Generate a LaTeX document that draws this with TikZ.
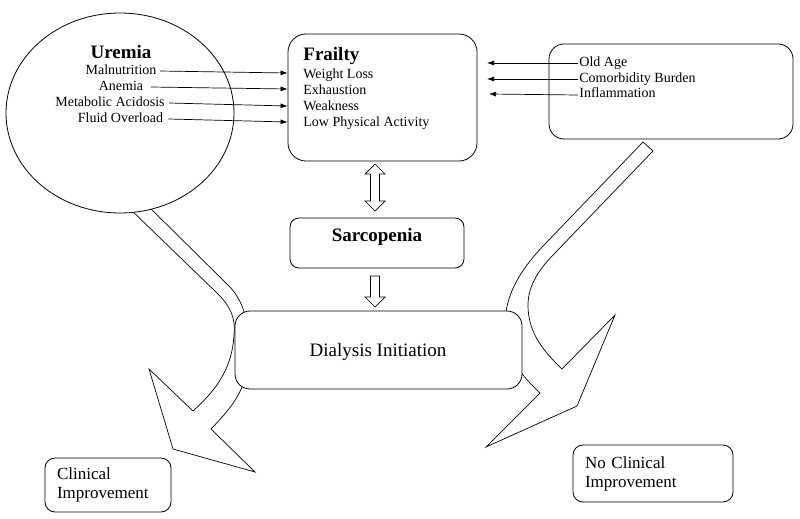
\documentclass[tikz,border=0pt]{standalone}
\usepackage{fontspec}
\setmainfont{Liberation Serif}
\usetikzlibrary{arrows.meta,shapes.geometric}
\begin{document}
\begin{tikzpicture}[x=1pt,y=-1pt,
  line width=0.8pt,
  box/.style={draw, rounded corners=#1, fill=white, inner sep=0pt},
  box/.default=15pt,
  bigarrow/.style={draw, fill=white, line width=0.7pt, line join=miter},
  fatarrow/.style={draw, fill=white, line width=0.7pt},
  small/.style={font=\fontsize{14}{16}\selectfont, inner sep=1pt, text height=9pt, text depth=2pt},
  head/.style={font=\fontsize{19}{22}\selectfont\bfseries, inner sep=0pt},
  big/.style={font=\fontsize{19}{22}\selectfont, inner sep=0pt},
  outcome/.style={draw, rounded corners=10pt, align=left, inner xsep=12pt, inner ysep=0pt,
     font=\fontsize{17}{19}\selectfont},
  arr/.style={-{Latex[length=7pt,width=5pt]}, line width=0.7pt}]
\useasboundingbox (0,0) rectangle (800,519);

% bent arrow from uremia to clinical improvement
\path[bigarrow] (128,207) -- (218,294)
  .. controls (230,306) and (236,318) .. (234,335)
  .. controls (232,370) and (215,391) .. (193,411)
  -- (149,369) -- (173,449) -- (255,472) -- (211,429)
  .. controls (232,407) and (247,390) .. (249,355)
  .. controls (250,320) and (242,300) .. (230,287)
  -- (143,201) -- cycle;

% bent arrow from comorbidity box to no clinical improvement
\path[bigarrow] (643,142) -- (545,244)
  .. controls (520,270) and (505,295) .. (505,325)
  .. controls (505,350) and (515,370) .. (540,393)
  -- (486,447) -- (577,406) -- (615,315) -- (562,369)
  .. controls (540,348) and (528,330) .. (528,305)
  .. controls (528,285) and (540,268) .. (555,253)
  -- (653,151) -- cycle;

% main shapes
\node[draw, ellipse, fill=white, minimum width=228pt, minimum height=200pt, inner sep=0pt] (uremia) at (120,113) {};
\node[box=18pt, minimum width=189pt, minimum height=127pt] (frailty) at (382.5,97.5) {};
\node[box=15pt, minimum width=244pt, minimum height=95pt] (risk) at (671,91.5) {};
\node[box=9pt, minimum width=174pt, minimum height=50pt] (sarco) at (377,243) {};
\node[box=15pt, minimum width=287pt, minimum height=78pt] (dial) at (378.5,350) {};

% Uremia texts
\node[head] (uremiat) at (121,52) {Uremia};
\node[small] (mal) at (121,71) {Malnutrition};
\node[small] (ane) at (121,87) {Anemia};
\node[small] (met) at (110,103) {Metabolic Acidosis};
\node[small] (flu) at (120.5,119) {Fluid Overload};

% Frailty texts
\node[head, anchor=west] (frailtyt) at (303,56) {Frailty};
\node[small, anchor=west] (wl) at (302,75) {Weight Loss};
\node[small, anchor=west] (exh) at (302,91) {Exhaustion};
\node[small, anchor=west] (weak) at (302,107) {Weakness};
\node[small, anchor=west] (lpa) at (302,123) {Low Physical Activity};

% risk texts
\node[small, anchor=west] (old) at (578,63) {Old Age};
\node[small, anchor=west] (com) at (578,79) {Comorbidity Burden};
\node[small, anchor=west] (inf) at (578,94) {Inflammation};

% other texts
\node[head] (sarcot) at (377,237) {Sarcopenia};
\node[big] (dialt) at (378,352) {Dialysis Initiation};

% outcomes
\node[outcome, text width=102pt, minimum height=54pt] (clin) at (108,485) {Clinical\\Improvement};
\node[outcome, text width=136pt, minimum height=57pt] (noclin) at (653,473.5) {No Clinical\\Improvement};

% arrows from uremia causes
\draw[arr] ([xshift=2pt]mal.east) -- ([yshift=-2pt]mal.east -| frailty.west);
\draw[arr] ([xshift=6pt]ane.east) -- ([yshift=-2pt]ane.east -| frailty.west);
\draw[arr] ([xshift=3pt]met.east) -- ([yshift=-3pt]met.east -| frailty.west);
\draw[arr] ([xshift=4pt]flu.east) -- ([yshift=-3pt]flu.east -| frailty.west);

% arrows from risk factors
\coordinate (rt) at (487,0);
\draw[arr] (old.west) -- (old.west -| rt);
\draw[arr] (com.west) -- (com.west -| rt);
\draw[arr] ([yshift=-1pt]inf.west) -- ([xshift=2pt]inf.west -| rt);

% double arrow frailty <-> sarcopenia
\path[fatarrow] (375,164) -- (385,174) -- (379.5,174) -- (379.5,201) -- (385,201) -- (375,211)
  -- (365,201) -- (370.5,201) -- (370.5,174) -- (365,174) -- cycle;
% down arrow sarcopenia -> dialysis
\path[fatarrow] (370.5,276) -- (379.5,276) -- (379.5,297) -- (385,297) -- (375,307)
  -- (365,297) -- (370.5,297) -- cycle;
\end{tikzpicture}
\end{document}
